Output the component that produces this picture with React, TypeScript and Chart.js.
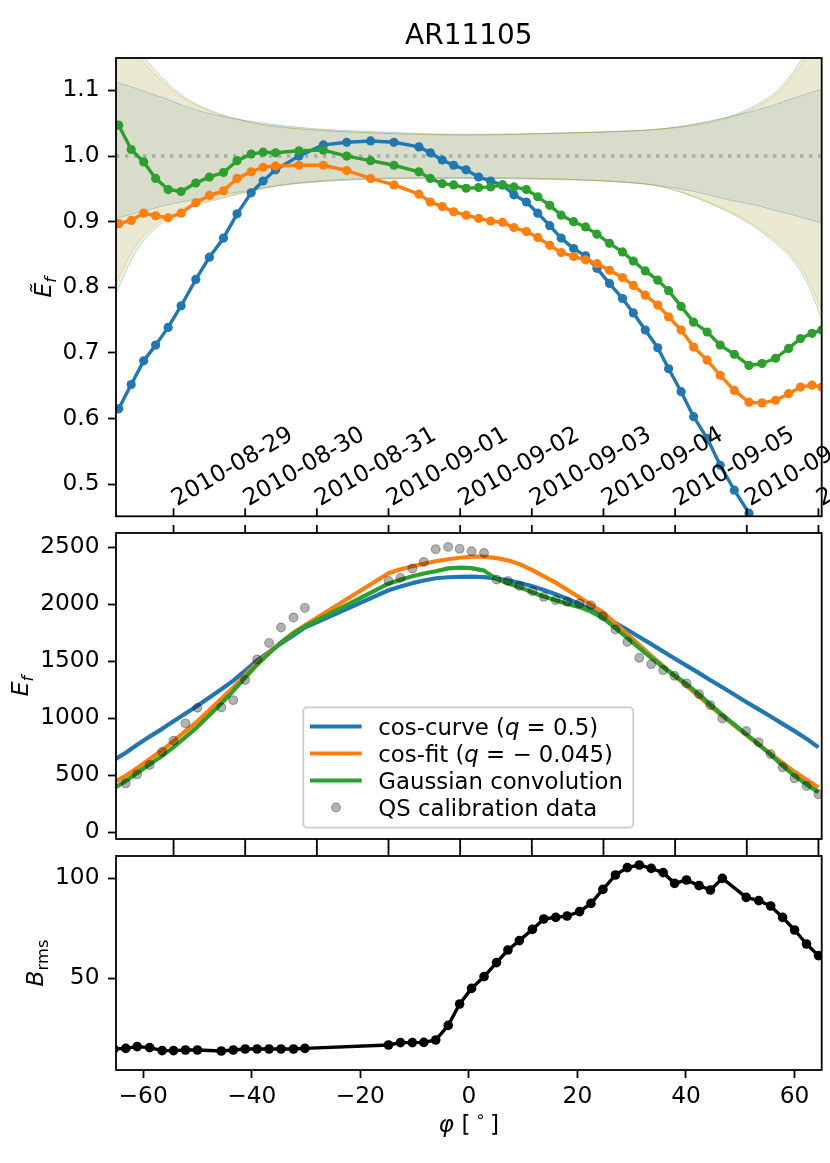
import { useEffect, useRef } from 'react';
import { Chart, registerables } from 'chart.js';

Chart.register(...registerables);

const FONT = '"DejaVu Sans", sans-serif';
const FS = 23.3;
const W = 830;
const H = 1163;

const BLUE = '#1f77b4';
const ORANGE = '#ff7f0e';
const GREEN = '#2ca02c';

// ---- top panel: ratio curves ----
const TOP_PHI = [
  -64.5, -62.2, -59.9, -57.7, -55.4, -53.0, -50.3, -47.8, -45.2, -42.7, -40.1, -37.9, -35.6,
  -31.3, -26.8, -22.5, -18.1, -13.8, -9.2, -7.1, -4.9, -2.8, -0.5, 1.8, 4.0, 6.2, 8.3, 10.6,
  12.7, 14.9, 17.0, 19.3, 21.5, 23.6, 25.9, 28.3, 30.3, 32.5, 34.8, 36.8, 39.1, 41.4, 43.9,
  46.3, 48.9, 51.6, 54.0, 56.5, 58.9, 61.1, 63.2, 65.0,
];
const BLUE_RATIO = [
  0.615, 0.652, 0.688, 0.712, 0.739, 0.772, 0.812, 0.846, 0.875, 0.912, 0.944, 0.962, 0.979,
  1.0, 1.017, 1.021, 1.023, 1.021, 1.014, 1.005, 0.994, 0.986,
  0.979, 0.968, 0.962, 0.956, 0.941, 0.93, 0.913, 0.894, 0.875, 0.859, 0.848, 0.829, 0.806,
  0.783, 0.761, 0.735, 0.708, 0.676, 0.641, 0.603, 0.57, 0.529, 0.491, 0.456, 0.41,
];
const ORANGE_RATIO = [
  0.897, 0.902, 0.913, 0.909, 0.906, 0.913, 0.929, 0.94, 0.947, 0.966, 0.976, 0.983, 0.985,
  0.986, 0.986, 0.978, 0.966, 0.956, 0.942, 0.93, 0.923, 0.915,
  0.91, 0.905, 0.901, 0.899, 0.891, 0.885, 0.876, 0.864, 0.853, 0.847,
  0.842, 0.836, 0.826, 0.815, 0.803, 0.788, 0.773, 0.755, 0.735, 0.709,
  0.689, 0.666, 0.643, 0.625, 0.624, 0.628, 0.638, 0.648, 0.651, 0.648,
];
const GREEN_RATIO = [
  1.047, 1.01, 0.991, 0.966, 0.949, 0.946, 0.959, 0.968, 0.975, 0.993, 1.003, 1.006, 1.005,
  1.008, 1.009, 1.0, 0.993, 0.986, 0.976, 0.966, 0.958, 0.956,
  0.951, 0.952, 0.953, 0.956, 0.953, 0.949, 0.938, 0.925, 0.91, 0.9,
  0.892, 0.881, 0.867, 0.854, 0.84, 0.825, 0.811, 0.795, 0.771, 0.747,
  0.732, 0.712, 0.698, 0.681, 0.684, 0.692, 0.707, 0.722, 0.73, 0.735,
];

// uncertainty bands around 1
const BAND_PHI = [-65, -62, -59, -56, -53, -48, -41, -35, -29, -17, 0, 17, 29, 35, 41, 48, 53, 56, 59, 62, 65];
const ORANGE_HI = [1.2, 1.165, 1.135, 1.11, 1.09, 1.069, 1.052, 1.044, 1.04, 1.035, 1.032, 1.035, 1.038, 1.041, 1.046, 1.058, 1.075, 1.09, 1.115, 1.15, 1.2];
const ORANGE_LO = [0.805, 0.855, 0.886, 0.905, 0.92, 0.932, 0.946, 0.956, 0.961, 0.966, 0.967, 0.965, 0.96, 0.955, 0.94, 0.916, 0.893, 0.875, 0.853, 0.82, 0.765];
const GREEN_HI = [1.215, 1.175, 1.142, 1.115, 1.093, 1.071, 1.053, 1.045, 1.04, 1.035, 1.032, 1.035, 1.038, 1.041, 1.047, 1.06, 1.078, 1.094, 1.12, 1.158, 1.212];
const GREEN_LO = [0.79, 0.845, 0.88, 0.901, 0.917, 0.93, 0.945, 0.955, 0.961, 0.966, 0.967, 0.965, 0.96, 0.954, 0.939, 0.914, 0.89, 0.871, 0.848, 0.812, 0.752];
const BLUE_HI = [1.112, 1.105, 1.096, 1.088, 1.078, 1.065, 1.054, 1.047, 1.042, 1.037, 1.033, 1.035, 1.038, 1.041, 1.048, 1.06, 1.07, 1.077, 1.086, 1.094, 1.102];
const BLUE_LO = [0.905, 0.912, 0.918, 0.925, 0.93, 0.938, 0.947, 0.955, 0.96, 0.965, 0.966, 0.964, 0.96, 0.955, 0.947, 0.933, 0.925, 0.918, 0.912, 0.905, 0.898];

// ---- middle / bottom panels ----
const PHI = [
  -65.4, -63.2, -61.1, -58.8, -56.5, -54.4, -52.2, -50.0, -45.6, -43.4, -41.2, -39.0, -36.8,
  -34.6, -32.3, -30.2, -14.8, -12.6, -10.4, -8.3, -6.1, -3.8, -1.7, 0.5, 2.8, 5.1, 7.2, 9.3,
  11.7, 13.8, 16.0, 18.1, 20.4, 22.5, 24.7, 27.0, 29.2, 31.4, 33.6, 35.8, 37.9, 40.1, 42.4,
  44.5, 46.7, 51.1, 53.4, 55.6, 57.8, 60.0, 62.2, 64.4,
];
const QS_DATA: (number | null)[] = [
  null, 429, 508, 590, 706, 803, 955, 1092, 1095, 1159, 1335, 1516, 1661, 1796, 1884, 1968,
  2205, 2231, 2313, 2371, 2483, 2503, 2486, 2465, 2450,
  2217, 2205, 2161, 2114, 2065, 2036, 2021, 2007, 1992, 1895, 1779, 1670, 1530, 1475, 1422,
  1372, 1306, 1212, 1115, 999, 888, 789, 686, 570, 473, 406, 333,
];
const COS_CURVE = [
  633, 698, 767, 839, 907, 973, 1042, 1109, 1255, 1330, 1418, 1507, 1581, 1655, 1728, 1795,
  2123, 2155, 2185, 2208, 2228, 2237, 2241, 2243, 2238, 2226,
  2210, 2188, 2158, 2125, 2088, 2048, 2002, 1952, 1898, 1836,
  1776, 1713, 1650, 1586, 1524, 1462, 1396, 1334, 1272, 1143,
  1078, 1016, 951, 887, 820, 745,
];
const COS_FIT = [
  437, 496, 563, 643, 719, 799, 887, 973, 1170, 1270, 1378, 1486, 1576, 1665, 1752, 1815,
  2272, 2307, 2333, 2355, 2377, 2395, 2408, 2418, 2418, 2405,
  2385, 2352, 2300, 2245, 2190, 2128, 2060, 1995, 1930, 1830,
  1737, 1643, 1548, 1458, 1371, 1284, 1192, 1104, 1020, 853,
  768, 688, 608, 530, 460, 392,
];
const GAUSS_CONV = [
  386, 450, 520, 597, 670, 747, 835, 925, 1130, 1240, 1357, 1470, 1570, 1665, 1745, 1805,
  2180, 2215, 2245, 2270, 2290, 2315, 2322, 2317, 2295, 2222,
  2185, 2150, 2105, 2068, 2035, 2005, 1975, 1935, 1880, 1790,
  1705, 1615, 1530, 1450, 1375, 1300, 1210, 1120, 1030, 860,
  770, 680, 585, 495, 420, 350,
];
const B_RMS = [
  14.5, 14.8, 15.7, 15.2, 13.7, 13.7, 14.0, 14.0, 13.5, 14.0, 14.5, 14.5, 14.5, 14.5, 14.5, 14.8,
  16.5, 17.7, 17.7, 17.8, 19.0, 26.3, 37.0, 44.8, 50.7, 57.7,
  64.0, 68.7, 74.3, 79.5, 80.3, 81.0, 83.2, 87.3, 94.3, 101.5,
  105.2, 106.5, 104.8, 102.7, 97.3, 99.0, 96.2, 94.0, 99.8, 90.3,
  88.7, 86.0, 80.3, 74.0, 67.0, 61.2,
];

// date axis (shared on top of the panels)
const DATE_PHI = [-54.4, -41.2, -28.0, -14.8, -1.6, 11.6, 24.8, 38.0, 51.2, 64.4];
const DATE_LABELS = [
  '2010-08-29', '2010-08-30', '2010-08-31', '2010-09-01', '2010-09-02',
  '2010-09-03', '2010-09-04', '2010-09-05', '2010-09-06', '2010-09-07',
];

// tick values
const TOP_Y_TICKS = [0.5, 0.6, 0.7, 0.8, 0.9, 1.0, 1.1];
const MID_Y_TICKS = [0, 500, 1000, 1500, 2000, 2500];
const BOT_Y_TICKS = [50, 100];
const X_TICKS = [-60, -40, -20, 0, 20, 40, 60];

const X_MIN = -65;
const X_MAX = 65;

type Part = { t: string; it?: boolean; sub?: boolean; sup?: boolean };

function richText(
  ctx: CanvasRenderingContext2D,
  parts: Part[],
  x: number,
  y: number,
  size: number,
  align: 'left' | 'center',
  rot = 0,
) {
  ctx.save();
  ctx.translate(x, y);
  ctx.rotate(rot);
  ctx.fillStyle = '#000';
  ctx.textAlign = 'left';
  ctx.textBaseline = 'alphabetic';
  const fontOf = (p: Part) => `${p.it ? 'italic ' : ''}${p.sub || p.sup ? size * 0.7 : size}px ${FONT}`;
  const widths = parts.map((p) => {
    ctx.font = fontOf(p);
    return ctx.measureText(p.t).width;
  });
  const total = widths.reduce((s, w) => s + w, 0);
  let cx = align === 'center' ? -total / 2 : 0;
  parts.forEach((p, i) => {
    ctx.font = fontOf(p);
    const dy = p.sub ? size * 0.22 : p.sup ? -size * 0.42 : 0;
    ctx.fillText(p.t, cx, dy);
    cx += widths[i];
  });
  ctx.restore();
}

const pts = (xs: number[], ys: (number | null)[]) =>
  ys.map((y, i) => ({ x: xs[i], y })).filter((p) => p.y !== null);

function dateTicks(chart: any, y0: number, y1: number) {
  const { ctx, scales } = chart;
  ctx.save();
  ctx.strokeStyle = '#000';
  ctx.lineWidth = 1.8;
  DATE_PHI.forEach((d) => {
    const x = scales.x.getPixelForValue(d);
    ctx.beginPath();
    ctx.moveTo(x, y0);
    ctx.lineTo(x, y1);
    ctx.stroke();
  });
  ctx.restore();
}

function panelPlugin(kind: 'top' | 'mid' | 'bot') {
  return {
    id: 'panel_' + kind,
    beforeDatasetsDraw(chart: any) {
      const { ctx, chartArea: a } = chart;
      ctx.save();
      ctx.beginPath();
      ctx.rect(a.left, a.top, a.right - a.left, a.bottom - a.top);
      ctx.clip();
    },
    afterDatasetsDraw(chart: any) {
      chart.ctx.restore();
    },
    afterDraw(chart: any) {
      const { ctx, chartArea: a, scales } = chart;
      const midY = (a.top + a.bottom) / 2;
      ctx.save();
      if (kind === 'top') {
        dateTicks(chart, a.bottom, a.bottom - 8);
        ctx.fillStyle = '#000';
        ctx.font = `${FS}px ${FONT}`;
        ctx.textAlign = 'left';
        ctx.textBaseline = 'alphabetic';
        DATE_PHI.forEach((d, i) => {
          const x = scales.x.getPixelForValue(d);
          ctx.save();
          ctx.translate(x + 3.5, a.bottom - 10);
          ctx.rotate(-Math.PI / 6);
          ctx.fillText(DATE_LABELS[i], 0, 0);
          ctx.restore();
        });
        ctx.font = `${FS * 1.2}px ${FONT}`;
        ctx.textAlign = 'center';
        ctx.fillText('AR11105', (a.left + a.right) / 2, a.top - 14);
        richText(ctx, [{ t: 'Ẽ', it: true }, { t: 'f', it: true, sub: true }], 51, midY, FS, 'center', -Math.PI / 2);
      }
      if (kind === 'mid') {
        dateTicks(chart, a.top, a.top - 8);
        dateTicks(chart, a.bottom, a.bottom + 9);
        richText(ctx, [{ t: 'E', it: true }, { t: 'f', it: true, sub: true }], 28, midY, FS, 'center', -Math.PI / 2);
        // legend
        const lx = 303.3;
        const ly = 707.3;
        ctx.beginPath();
        ctx.roundRect(lx, ly, 330, 120.4, 4);
        ctx.fillStyle = 'rgba(255,255,255,0.8)';
        ctx.fill();
        ctx.strokeStyle = '#cccccc';
        ctx.lineWidth = 1.8;
        ctx.stroke();
        const rows: { color: string | null; parts: Part[] }[] = [
          { color: BLUE, parts: [{ t: 'cos-curve (' }, { t: 'q', it: true }, { t: ' = 0.5)' }] },
          { color: ORANGE, parts: [{ t: 'cos-fit (' }, { t: 'q', it: true }, { t: ' = \u2212 0.045)' }] },
          { color: GREEN, parts: [{ t: 'Gaussian convolution' }] },
          { color: null, parts: [{ t: 'QS calibration data' }] },
        ];
        rows.forEach((r, i) => {
          const cy = 726.5 + i * 27;
          if (r.color) {
            ctx.beginPath();
            ctx.moveTo(310, cy);
            ctx.lineTo(361.7, cy);
            ctx.strokeStyle = r.color;
            ctx.lineWidth = 4.2;
            ctx.stroke();
          } else {
            ctx.beginPath();
            ctx.arc(336, cy, 4.4, 0, Math.PI * 2);
            ctx.fillStyle = 'rgba(0,0,0,0.3)';
            ctx.fill();
            ctx.strokeStyle = 'rgba(0,0,0,0.3)';
            ctx.lineWidth = 1.2;
            ctx.stroke();
          }
          richText(ctx, r.parts, 378.3, cy + 8, 22.8, 'left');
        });
      }
      if (kind === 'bot') {
        dateTicks(chart, a.top, a.top - 9);
        richText(ctx, [{ t: 'B', it: true }, { t: 'rms', sub: true }], 43, midY, FS, 'center', -Math.PI / 2);
        richText(
          ctx,
          [{ t: 'φ', it: true }, { t: ' [\u2009' }, { t: '∘', sup: true }, { t: '\u2009]' }],
          (a.left + a.right) / 2,
          1132,
          FS,
          'center',
        );
      }
      ctx.strokeStyle = '#000';
      ctx.lineWidth = 1.8;
      ctx.strokeRect(a.left, a.top, a.right - a.left, a.bottom - a.top);
      ctx.restore();
    },
  };
}

const tickGrid = { display: true, drawOnChartArea: false, drawTicks: true, tickLength: 8, tickWidth: 1.8, tickColor: '#000' };

function yScale(min: number, max: number, values: number[], fmt: (v: number) => string) {
  return {
    type: 'linear' as const,
    min,
    max,
    grid: tickGrid,
    border: { display: false },
    afterBuildTicks: (s: any) => {
      s.ticks = values.map((value) => ({ value }));
    },
    ticks: {
      padding: 8.5,
      color: '#000',
      font: { size: FS, family: FONT },
      callback: (v: any) => fmt(Number(v)),
    },
    afterFit: (s: any) => {
      s.width = 116;
      s.paddingTop = 0;
      s.paddingBottom = 0;
    },
  };
}

const hiddenX = { type: 'linear' as const, min: X_MIN, max: X_MAX, display: false };

function baseOptions(padTop: number, padBottom: number, y: any, x: any) {
  return {
    responsive: false,
    devicePixelRatio: 1,
    animation: false as const,
    events: [],
    layout: { autoPadding: false, padding: { left: 0, right: 8.3, top: padTop, bottom: padBottom } },
    plugins: { legend: { display: false }, tooltip: { enabled: false }, title: { display: false } },
    scales: { x, y },
  };
}

export default function App() {
  const topRef = useRef<HTMLCanvasElement>(null);
  const midRef = useRef<HTMLCanvasElement>(null);
  const botRef = useRef<HTMLCanvasElement>(null);

  useEffect(() => {
    if (!topRef.current || !midRef.current || !botRef.current) return;

    const band = (hi: number[], lo: number[], rgb: string) => [
      {
        data: pts(BAND_PHI, hi),
        fill: '+1',
        backgroundColor: `rgba(${rgb},0.1)`,
        borderColor: `rgba(${rgb},0.3)`,
        borderWidth: 1,
        pointRadius: 0,
        cubicInterpolationMode: 'monotone',
        order: 10,
      },
      {
        data: pts(BAND_PHI, lo),
        fill: false,
        borderColor: `rgba(${rgb},0.3)`,
        borderWidth: 1,
        pointRadius: 0,
        cubicInterpolationMode: 'monotone',
        order: 10,
      },
    ];
    const ratio = (ys: number[], color: string, order: number) => ({
      data: pts(TOP_PHI, ys),
      borderColor: color,
      backgroundColor: color,
      borderWidth: 3.4,
      borderJoinStyle: 'round',
      pointRadius: 4.6,
      pointBorderWidth: 0,
      pointBackgroundColor: color,
      order,
    });

    const top = new Chart(topRef.current, {
      type: 'line',
      data: {
        datasets: [
          ...band(ORANGE_HI, ORANGE_LO, '255,127,14'),
          ...band(GREEN_HI, GREEN_LO, '44,160,44'),
          ...band(BLUE_HI, BLUE_LO, '31,119,180'),
          {
            data: [{ x: X_MIN, y: 1 }, { x: X_MAX, y: 1 }],
            borderColor: '#aaaaaa',
            borderWidth: 3.4,
            borderDash: [3.4, 5.6],
            borderCapStyle: 'butt',
            pointRadius: 0,
            order: 5,
          },
          ratio(BLUE_RATIO, BLUE, 3),
          ratio(ORANGE_RATIO, ORANGE, 2),
          ratio(GREEN_RATIO, GREEN, 1),
        ] as any,
      },
      options: baseOptions(58, H - 516.3, yScale(0.4512, 1.1494, TOP_Y_TICKS, (v) => v.toFixed(1)), hiddenX) as any,
      plugins: [panelPlugin('top')],
    });

    const curve = (ys: number[], color: string, order: number) => ({
      data: pts(PHI, ys),
      borderColor: color,
      borderWidth: 4.2,
      borderJoinStyle: 'round',
      pointRadius: 0,
      order,
    });
    const mid = new Chart(midRef.current, {
      type: 'line',
      data: {
        datasets: [
          curve(COS_CURVE, BLUE, 4),
          curve(COS_FIT, ORANGE, 3),
          curve(GAUSS_CONV, GREEN, 2),
          {
            data: pts(PHI, QS_DATA),
            showLine: false,
            pointRadius: 4.4,
            pointBackgroundColor: 'rgba(0,0,0,0.3)',
            pointBorderColor: 'rgba(0,0,0,0.3)',
            pointBorderWidth: 1.2,
            order: 1,
          },
        ] as any,
      },
      options: baseOptions(533, H - 839, yScale(-59, 2625, MID_Y_TICKS, (v) => String(Math.round(v))), hiddenX) as any,
      plugins: [panelPlugin('mid')],
    });

    const bot = new Chart(botRef.current, {
      type: 'line',
      data: {
        datasets: [
          {
            data: pts(PHI, B_RMS),
            borderColor: '#000',
            borderWidth: 3.4,
            borderJoinStyle: 'round',
            pointRadius: 4.8,
            pointBorderWidth: 0,
            pointBackgroundColor: '#000',
          },
        ] as any,
      },
      options: baseOptions(
        856,
        0,
        yScale(4, 111, BOT_Y_TICKS, (v) => String(Math.round(v))),
        {
          type: 'linear',
          min: X_MIN,
          max: X_MAX,
          grid: tickGrid,
          border: { display: false },
          afterBuildTicks: (s: any) => {
            s.ticks = X_TICKS.map((value) => ({ value }));
          },
          ticks: {
            padding: 5,
            maxRotation: 0,
            autoSkip: false,
            color: '#000',
            font: { size: FS, family: FONT },
            callback: (v: any) => (Number(v) < 0 ? '\u2212' + Math.abs(Number(v)) : String(v)),
          },
          afterFit: (s: any) => {
            s.height = H - 1070;
            s.paddingLeft = 0;
            s.paddingRight = 0;
          },
        },
      ) as any,
      plugins: [panelPlugin('bot')],
    });

    return () => {
      top.destroy();
      mid.destroy();
      bot.destroy();
    };
  }, []);

  const cv = { position: 'absolute' as const, left: 0, top: 0, width: W, height: H };
  return (
    <div style={{ position: 'absolute', left: 0, top: 0, width: W, height: H, background: '#fff', fontFamily: FONT }}>
      <canvas ref={topRef} width={W} height={H} style={cv} />
      <canvas ref={midRef} width={W} height={H} style={cv} />
      <canvas ref={botRef} width={W} height={H} style={cv} />
    </div>
  );
}
